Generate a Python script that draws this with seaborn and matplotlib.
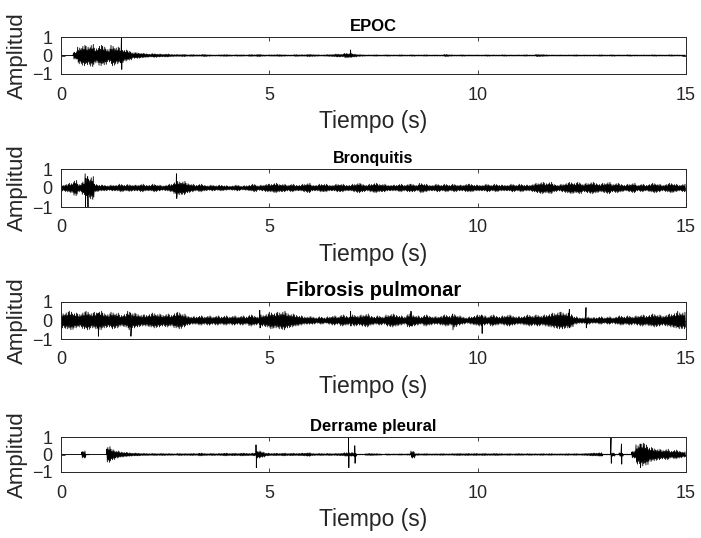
"""Four lung-sound waveforms stacked, MATLAB-like look."""

import matplotlib.pyplot as plt
import pandas as pd
import seaborn as sb

# amplitude envelope, one value per 0.1 s (15 s each)
epoc_env = [
    0.01, 0.01, 0.01, 0.2, 0.45, 0.55, 0.5, 0.6, 0.4, 0.55,
    0.5, 0.35, 0.55, 0.45, 0.4, 0.3, 0.25, 0.15, 0.15, 0.12,
    0.1, 0.08, 0.1, 0.08, 0.07, 0.08, 0.06, 0.05, 0.05, 0.06,
    0.04, 0.05, 0.04, 0.04, 0.06, 0.04, 0.03, 0.03, 0.04, 0.05,
    0.04, 0.03, 0.04, 0.04, 0.03, 0.05, 0.04, 0.06, 0.04, 0.03,
    0.04, 0.04, 0.05, 0.04, 0.03, 0.03, 0.05, 0.04, 0.04, 0.06,
    0.05, 0.04, 0.03, 0.04, 0.05, 0.06, 0.08, 0.07, 0.12, 0.1,
    0.08, 0.05, 0.04, 0.03, 0.03, 0.04, 0.03, 0.03, 0.04, 0.03,
    0.03, 0.04, 0.03, 0.03, 0.04, 0.03, 0.03, 0.04, 0.03, 0.03,
    0.03, 0.03, 0.06, 0.04, 0.03, 0.03, 0.04, 0.03, 0.03, 0.03,
    0.03, 0.03, 0.04, 0.03, 0.03, 0.03, 0.04, 0.03, 0.03, 0.03,
    0.03, 0.04, 0.03, 0.03, 0.06, 0.05, 0.04, 0.03, 0.03, 0.03,
    0.03, 0.03, 0.03, 0.04, 0.03, 0.03, 0.03, 0.03, 0.03, 0.04,
    0.03, 0.03, 0.04, 0.03, 0.03, 0.03, 0.04, 0.03, 0.03, 0.03,
    0.03, 0.03, 0.04, 0.03, 0.03, 0.03, 0.04, 0.03, 0.03, 0.03,
]
bronq_env = [
    0.15, 0.2, 0.25, 0.4, 0.2, 0.35, 0.5, 0.6, 0.2, 0.15,
    0.15, 0.12, 0.15, 0.15, 0.2, 0.15, 0.18, 0.15, 0.15, 0.2,
    0.15, 0.15, 0.2, 0.15, 0.12, 0.15, 0.2, 0.3, 0.35, 0.35,
    0.25, 0.2, 0.15, 0.2, 0.15, 0.12, 0.15, 0.12, 0.15, 0.12,
    0.1, 0.12, 0.15, 0.1, 0.12, 0.15, 0.2, 0.12, 0.15, 0.2,
    0.2, 0.25, 0.2, 0.2, 0.15, 0.2, 0.15, 0.15, 0.2, 0.25,
    0.15, 0.15, 0.2, 0.2, 0.15, 0.15, 0.2, 0.2, 0.15, 0.15,
    0.2, 0.25, 0.2, 0.15, 0.2, 0.25, 0.2, 0.2, 0.15, 0.15,
    0.15, 0.2, 0.15, 0.2, 0.2, 0.15, 0.25, 0.2, 0.15, 0.15,
    0.2, 0.15, 0.2, 0.15, 0.2, 0.15, 0.15, 0.2, 0.2, 0.15,
    0.15, 0.15, 0.2, 0.15, 0.2, 0.15, 0.15, 0.15, 0.2, 0.15,
    0.2, 0.15, 0.15, 0.2, 0.25, 0.3, 0.25, 0.3, 0.2, 0.15,
    0.2, 0.25, 0.3, 0.25, 0.3, 0.2, 0.25, 0.3, 0.25, 0.2,
    0.25, 0.3, 0.2, 0.25, 0.2, 0.15, 0.2, 0.25, 0.15, 0.2,
    0.15, 0.2, 0.25, 0.2, 0.15, 0.2, 0.25, 0.2, 0.15, 0.2,
]
fibro_env = [
    0.4, 0.45, 0.5, 0.4, 0.35, 0.45, 0.5, 0.4, 0.45, 0.5,
    0.4, 0.35, 0.45, 0.4, 0.3, 0.35, 0.5, 0.4, 0.35, 0.3,
    0.3, 0.35, 0.4, 0.35, 0.3, 0.35, 0.3, 0.4, 0.45, 0.35,
    0.25, 0.2, 0.2, 0.25, 0.2, 0.25, 0.2, 0.25, 0.2, 0.25,
    0.2, 0.25, 0.2, 0.25, 0.2, 0.3, 0.25, 0.2, 0.3, 0.35,
    0.45, 0.4, 0.45, 0.5, 0.4, 0.35, 0.3, 0.25, 0.2, 0.2,
    0.2, 0.15, 0.2, 0.15, 0.2, 0.25, 0.2, 0.3, 0.25, 0.2,
    0.3, 0.25, 0.3, 0.35, 0.25, 0.2, 0.25, 0.2, 0.3, 0.35,
    0.3, 0.25, 0.2, 0.35, 0.3, 0.25, 0.2, 0.3, 0.25, 0.2,
    0.2, 0.25, 0.3, 0.25, 0.35, 0.25, 0.2, 0.15, 0.2, 0.25,
    0.3, 0.25, 0.2, 0.3, 0.25, 0.2, 0.25, 0.3, 0.25, 0.2,
    0.2, 0.25, 0.3, 0.25, 0.3, 0.25, 0.3, 0.35, 0.4, 0.45,
    0.45, 0.4, 0.35, 0.2, 0.15, 0.15, 0.2, 0.15, 0.15, 0.2,
    0.15, 0.2, 0.15, 0.2, 0.25, 0.2, 0.25, 0.2, 0.25, 0.3,
    0.25, 0.3, 0.35, 0.3, 0.25, 0.3, 0.35, 0.4, 0.45, 0.45,
]
derrame_env = [
    0.01, 0.01, 0.01, 0.01, 0.01, 0.2, 0.02, 0.01, 0.01, 0.01,
    0.01, 0.45, 0.3, 0.2, 0.15, 0.12, 0.1, 0.08, 0.08, 0.06,
    0.06, 0.05, 0.06, 0.05, 0.06, 0.05, 0.05, 0.04, 0.06, 0.05,
    0.05, 0.06, 0.05, 0.08, 0.06, 0.05, 0.06, 0.05, 0.06, 0.08,
    0.06, 0.07, 0.06, 0.08, 0.07, 0.06, 0.08, 0.2, 0.15, 0.08,
    0.06, 0.07, 0.06, 0.08, 0.06, 0.07, 0.06, 0.07, 0.08, 0.1,
    0.06, 0.05, 0.06, 0.05, 0.06, 0.05, 0.06, 0.07, 0.1, 0.1,
    0.1, 0.02, 0.02, 0.05, 0.06, 0.05, 0.04, 0.02, 0.04, 0.03,
    0.03, 0.04, 0.03, 0.04, 0.2, 0.05, 0.04, 0.05, 0.04, 0.04,
    0.04, 0.05, 0.04, 0.04, 0.05, 0.06, 0.05, 0.06, 0.05, 0.06,
    0.05, 0.06, 0.05, 0.05, 0.06, 0.05, 0.04, 0.05, 0.04, 0.05,
    0.05, 0.04, 0.05, 0.04, 0.04, 0.05, 0.04, 0.05, 0.04, 0.04,
    0.04, 0.05, 0.04, 0.05, 0.04, 0.05, 0.06, 0.08, 0.08, 0.1,
    0.02, 0.02, 0.1, 0.02, 0.1, 0.02, 0.02, 0.2, 0.55, 0.65,
    0.6, 0.4, 0.35, 0.3, 0.25, 0.3, 0.2, 0.25, 0.2, 0.15,
]

# isolated spikes: time (s), peak, trough
epoc_spikes = [(1.45, 1.0, -0.75), (6.95, 0.3, -0.1)]
bronq_spikes = [(0.58, 0.75, -1.0), (0.64, 0.6, -1.0), (2.77, 0.75, -0.55)]
fibro_spikes = [
    (0.89, 0.4, -0.85), (1.67, 0.4, -0.85), (4.77, 0.55, -0.4),
    (6.95, 0.5, -0.3), (8.4, 0.5, -0.3), (9.4, 0.3, -0.5),
    (10.1, 0.3, -0.7), (12.2, 0.6, -0.4), (12.6, 0.7, -0.4), (14.8, 0.5, -0.3),
]
derrame_spikes = [
    (4.68, 0.55, -0.75), (6.9, 1.0, -0.75), (7.05, 0.5, -0.5),
    (13.2, 1.0, -0.5), (13.45, 0.6, -0.55), (13.9, 0.6, -0.75),
]

titles = ["EPOC", "Bronquitis", "Fibrosis pulmonar", "Derrame pleural"]
title_sizes = [12, 11.5, 14.5, 12]
envs = [epoc_env, bronq_env, fibro_env, derrame_env]
spikes = [epoc_spikes, bronq_spikes, fibro_spikes, derrame_spikes]

# axes boxes in pixels (top, bottom) of a 701x538 canvas
boxes = [(37, 74), (169, 207), (302, 339), (437, 472)]
W, H = 701, 538
DT = 0.1
GRAY = "#262626"
# stroke shape inside one envelope step (drawing only, not data)
STROKES = [(1.0, 0.8), (0.6, 1.0), (0.9, 0.7), (0.7, 0.95)]


def _trace(env, spk):
    """Several up/down strokes per envelope step, plus the spikes."""
    t, y = [], []
    n = len(STROKES)
    for i, a in enumerate(env):
        shape = STROKES if i % 2 == 0 else STROKES[::-1]
        for j, (up, dn) in enumerate(shape):
            t0 = i * DT + j * DT / n
            t += [t0, t0 + DT / (2 * n)]
            y += [a * up, -a * dn]
    for ts, hi, lo in spk:
        t += [ts, ts + 0.008]
        y += [hi, lo]
    df = pd.DataFrame({"t": t, "y": y}).sort_values("t", kind="stable")
    return df


sb.set_theme(style="white")
plt.rcParams["font.family"] = ["Liberation Sans", "DejaVu Sans"]

fig = plt.figure(figsize=(W / 100, H / 100), dpi=100)
for k in range(4):
    top, bot = boxes[k]
    ax = fig.add_axes([61 / W, 1 - bot / H, 625 / W, (bot - top) / H])
    df = _trace(envs[k], spikes[k])
    sb.lineplot(data=df, x="t", y="y", ax=ax, color="black", linewidth=0.6,
                estimator=None, sort=False)
    ax.set_xlim(0, 15)
    ax.set_ylim(-1, 1)
    ax.set_xticks([0, 5, 10, 15])
    ax.set_yticks([-1, 0, 1])
    ax.tick_params(direction="in", length=3, width=0.6, colors=GRAY,
                   labelsize=13, top=True, right=True, bottom=True, left=True)
    ax.tick_params(axis="x", pad=9)
    ax.tick_params(axis="y", pad=6)
    for s in ax.spines.values():
        s.set_color(GRAY)
        s.set_linewidth(0.7)
    ax.set_xlabel("Tiempo (s)", fontsize=16.5, color=GRAY, labelpad=5)
    ax.set_ylabel("Amplitud", fontsize=16, color=GRAY, labelpad=3)
    ax.set_title(titles[k], fontsize=title_sizes[k], fontweight="bold",
                 color="black", pad=4)

fig.savefig("out.png", dpi=100, facecolor="white")
